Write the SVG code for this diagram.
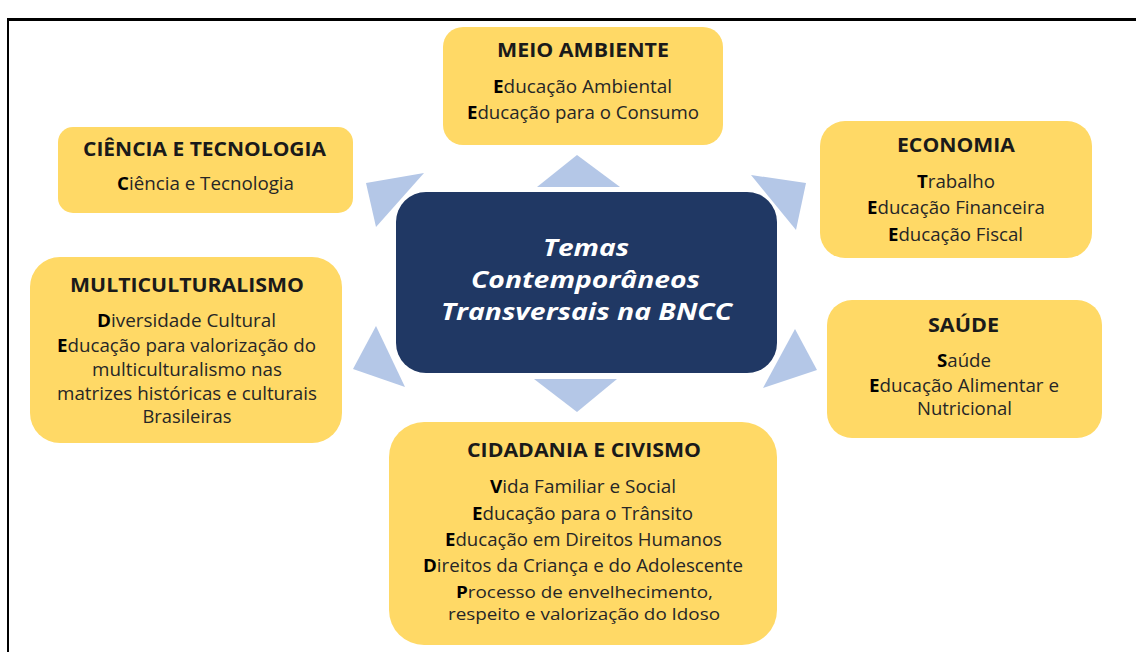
<svg xmlns="http://www.w3.org/2000/svg" width="1136" height="652" viewBox="0 0 1136 652">
<style>
.box{fill:#FFD966}
.center{fill:#203864}
.tri{fill:#B4C7E7}
.t{font-family:"Open Sans","Liberation Sans",sans-serif;font-size:19px;font-weight:bold;fill:#1a1a1a;text-anchor:middle}
.b{font-family:"Open Sans","Liberation Sans",sans-serif;font-size:17.5px;fill:#262626;text-anchor:middle}
.s{font-size:16px}
.b tspan{font-weight:bold;fill:#000}
.c{font-family:"Open Sans","Liberation Sans",sans-serif;font-size:23px;font-weight:bold;font-style:italic;fill:#ffffff;text-anchor:middle}
</style>
<rect x="0" y="0" width="1136" height="652" fill="#ffffff"/>
<g id="frame">
<rect x="7" y="18" width="1129" height="3" fill="#000"/>
<rect x="7" y="18" width="2" height="634" fill="#000"/>
</g>
<g id="connectors">
<polygon class="tri" points="577,155 537,187 620,187"/>
<polygon class="tri" points="366,183 424,173 376,227"/>
<polygon class="tri" points="751,175 806,183 796,230"/>
<polygon class="tri" points="376,326 353,369 405,387"/>
<polygon class="tri" points="795,329 817,370 763,388"/>
<polygon class="tri" points="534,379 617,379 577,412"/>
</g>
<g id="center">
<rect class="center" x="396" y="192" width="381" height="181" rx="30"/>
<text class="c" x="586" y="256" textLength="86" lengthAdjust="spacingAndGlyphs">Temas</text>
<text class="c" x="585.5" y="288" textLength="229" lengthAdjust="spacingAndGlyphs">Contemporâneos</text>
<text class="c" x="586.5" y="320" textLength="291" lengthAdjust="spacingAndGlyphs">Transversais na BNCC</text>
</g>
<g id="meio-ambiente">
<rect class="box" x="443" y="27" width="280" height="118" rx="20"/>
<text class="t" x="583" y="57" textLength="172" lengthAdjust="spacingAndGlyphs">MEIO AMBIENTE</text>
<text class="b" x="582.5" y="93" textLength="179" lengthAdjust="spacingAndGlyphs"><tspan>E</tspan>ducação Ambiental</text>
<text class="b" x="583" y="119" textLength="232" lengthAdjust="spacingAndGlyphs"><tspan>E</tspan>ducação para o Consumo</text>
</g>
<g id="ciencia-tecnologia">
<rect class="box" x="58" y="127" width="295" height="86" rx="15"/>
<text class="t" x="204.5" y="156" textLength="243" lengthAdjust="spacingAndGlyphs">CIÊNCIA E TECNOLOGIA</text>
<text class="b" x="205.5" y="190" textLength="177" lengthAdjust="spacingAndGlyphs"><tspan>C</tspan>iência e Tecnologia</text>
</g>
<g id="economia">
<rect class="box" x="820" y="121" width="272" height="137" rx="25"/>
<text class="t" x="956" y="152" textLength="118" lengthAdjust="spacingAndGlyphs">ECONOMIA</text>
<text class="b" x="956" y="188" textLength="78" lengthAdjust="spacingAndGlyphs"><tspan>T</tspan>rabalho</text>
<text class="b" x="956" y="214" textLength="178" lengthAdjust="spacingAndGlyphs"><tspan>E</tspan>ducação Financeira</text>
<text class="b" x="955.5" y="241" textLength="135" lengthAdjust="spacingAndGlyphs"><tspan>E</tspan>ducação Fiscal</text>
</g>
<g id="multiculturalismo">
<rect class="box" x="30" y="257" width="312" height="186" rx="30"/>
<text class="t" x="187" y="292" textLength="234" lengthAdjust="spacingAndGlyphs">MULTICULTURALISMO</text>
<text class="b" x="186.5" y="327" textLength="179" lengthAdjust="spacingAndGlyphs"><tspan>D</tspan>iversidade Cultural</text>
<text class="b" x="186.5" y="352" textLength="259" lengthAdjust="spacingAndGlyphs"><tspan>E</tspan>ducação para valorização do</text>
<text class="b" x="187" y="376" textLength="190" lengthAdjust="spacingAndGlyphs">multiculturalismo nas</text>
<text class="b" x="187" y="400" textLength="260" lengthAdjust="spacingAndGlyphs">matrizes históricas e culturais</text>
<text class="b" x="187" y="423" textLength="89" lengthAdjust="spacingAndGlyphs">Brasileiras</text>
</g>
<g id="saude">
<rect class="box" x="827" y="300" width="275" height="138" rx="25"/>
<text class="t" x="963.5" y="332" textLength="71" lengthAdjust="spacingAndGlyphs">SAÚDE</text>
<text class="b" x="964" y="367" textLength="54" lengthAdjust="spacingAndGlyphs"><tspan>S</tspan>aúde</text>
<text class="b" x="964" y="392" textLength="190" lengthAdjust="spacingAndGlyphs"><tspan>E</tspan>ducação Alimentar e</text>
<text class="b" x="964.5" y="415" textLength="95" lengthAdjust="spacingAndGlyphs">Nutricional</text>
</g>
<g id="cidadania-civismo">
<rect class="box" x="389" y="422" width="388" height="223" rx="35"/>
<text class="t" x="584" y="457" textLength="234" lengthAdjust="spacingAndGlyphs">CIDADANIA E CIVISMO</text>
<text class="b" x="583" y="493" textLength="186" lengthAdjust="spacingAndGlyphs"><tspan>V</tspan>ida Familiar e Social</text>
<text class="b" x="582.5" y="520" textLength="221" lengthAdjust="spacingAndGlyphs"><tspan>E</tspan>ducação para o Trânsito</text>
<text class="b" x="583.5" y="546" textLength="277" lengthAdjust="spacingAndGlyphs"><tspan>E</tspan>ducação em Direitos Humanos</text>
<text class="b" x="583" y="572" textLength="320" lengthAdjust="spacingAndGlyphs"><tspan>D</tspan>ireitos da Criança e do Adolescente</text>
<text class="b s" x="584.5" y="598" textLength="257" lengthAdjust="spacingAndGlyphs"><tspan>P</tspan>rocesso de envelhecimento,</text>
<text class="b s" x="584" y="620" textLength="272" lengthAdjust="spacingAndGlyphs">respeito e valorização do Idoso</text>
</g>
</svg>
